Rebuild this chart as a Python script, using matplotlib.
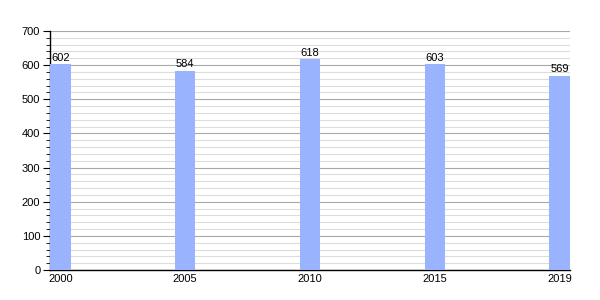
import numpy as np
from matplotlib import pyplot as plt
from matplotlib.ticker import MultipleLocator

plt.rcParams['font.family'] = ['Liberation Sans', 'DejaVu Sans']

years = ['2000', '2005', '2010', '2015', '2019']
population = [602, 584, 618, 603, 569]

fig = plt.figure(figsize=(6, 3), dpi=100)
ax = fig.add_axes([50 / 600, 30 / 300, 520 / 600, 239 / 300])

pos = np.arange(len(years))
width = 0.165
bars = ax.bar(pos, population, width=width, align='edge', color='#99b3ff', zorder=3)

# year labels under the bar centres
ax.set_xticks(pos + width / 2)
ax.set_xticklabels(years, fontsize=8)
ax.tick_params(axis='x', length=0, pad=3)

ax.set_xlim(0, pos[-1] + width)
ax.set_ylim(0, 700)
ax.yaxis.set_major_locator(MultipleLocator(100))
ax.yaxis.set_minor_locator(MultipleLocator(20))
ax.tick_params(axis='y', which='major', length=5, labelsize=8, pad=2)
ax.tick_params(axis='y', which='minor', length=3)

ax.grid(axis='y', which='major', color='#a8a8a8', linewidth=0.8, zorder=0)
ax.grid(axis='y', which='minor', color='#dcdcdc', linewidth=0.8, zorder=0)

for sp in ['top', 'right']:
    ax.spines[sp].set_visible(False)
ax.spines['left'].set_linewidth(1.0)
ax.spines['bottom'].set_linewidth(1.0)

for b, v in zip(bars, population):
    ax.text(b.get_x() + b.get_width() / 2, v + 4, str(v), ha='center', va='bottom', fontsize=8, zorder=4)

plt.savefig('out.png', dpi=100)
